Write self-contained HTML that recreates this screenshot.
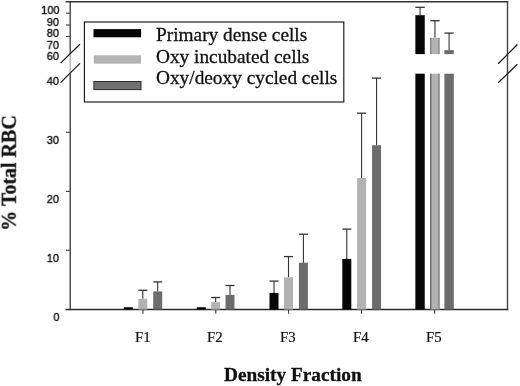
<!DOCTYPE html>
<html><head><meta charset="utf-8"><style>
html,body{margin:0;padding:0;background:#fff;}
body{width:520px;height:386px;overflow:hidden;position:relative;}
svg{position:absolute;left:0;top:0;}
.t{position:absolute;white-space:nowrap;line-height:1;color:#111;will-change:transform;-webkit-text-stroke:0.3px #111;}
.serif{font-family:"Liberation Serif",serif;}
.sans{font-family:"Liberation Sans",sans-serif;transform:scaleX(0.94);transform-origin:100% 50%;-webkit-text-stroke:0.4px #111;}
</style></head><body>
<svg width="520" height="386" viewBox="0 0 520 386">
<line x1="65.5" y1="1.8" x2="508.2" y2="1.8" stroke="#333" stroke-width="1.4"/>
<line x1="507.5" y1="1.5" x2="507.5" y2="310.2" stroke="#444" stroke-width="1.4"/>
<line x1="70.2" y1="1.5" x2="70.2" y2="54" stroke="#3a3a3a" stroke-width="1.3"/>
<line x1="70.2" y1="54" x2="70.2" y2="73.5" stroke="#a5a5a5" stroke-width="1.2"/>
<line x1="70.2" y1="73.5" x2="70.2" y2="310.2" stroke="#333" stroke-width="1.3"/>
<line x1="65.5" y1="309.5" x2="508.2" y2="309.5" stroke="#2a2a2a" stroke-width="1.4"/>
<line x1="66" y1="13.2" x2="70.2" y2="13.2" stroke="#3c3c3c" stroke-width="1.1"/>
<line x1="66" y1="25.0" x2="70.2" y2="25.0" stroke="#3c3c3c" stroke-width="1.1"/>
<line x1="66" y1="36.5" x2="70.2" y2="36.5" stroke="#3c3c3c" stroke-width="1.1"/>
<line x1="66" y1="132.3" x2="70.2" y2="132.3" stroke="#3c3c3c" stroke-width="1.1"/>
<line x1="66" y1="191.4" x2="70.2" y2="191.4" stroke="#3c3c3c" stroke-width="1.1"/>
<line x1="66" y1="250.3" x2="70.2" y2="250.3" stroke="#3c3c3c" stroke-width="1.1"/>
<line x1="143.0" y1="309.5" x2="143.0" y2="313.8" stroke="#3c3c3c" stroke-width="1.1"/>
<line x1="215.8" y1="309.5" x2="215.8" y2="313.8" stroke="#3c3c3c" stroke-width="1.1"/>
<line x1="288.6" y1="309.5" x2="288.6" y2="313.8" stroke="#3c3c3c" stroke-width="1.1"/>
<line x1="361.6" y1="309.5" x2="361.6" y2="313.8" stroke="#3c3c3c" stroke-width="1.1"/>
<line x1="434.7" y1="309.5" x2="434.7" y2="313.8" stroke="#3c3c3c" stroke-width="1.1"/>
<line x1="60.6" y1="63.1" x2="79.9" y2="44.3" stroke="#1e1e1e" stroke-width="1.3"/>
<line x1="60.6" y1="82.6" x2="79.9" y2="63.4" stroke="#1e1e1e" stroke-width="1.3"/>
<line x1="498.2" y1="63.7" x2="517.4" y2="44.5" stroke="#1e1e1e" stroke-width="1.3"/>
<line x1="498.2" y1="82.7" x2="517.4" y2="64.2" stroke="#1e1e1e" stroke-width="1.3"/>
<rect x="123.8" y="307.2" width="9.0" height="2.3" fill="#070707"/>
<line x1="142.8" y1="290.3" x2="142.8" y2="298.8" stroke="#333" stroke-width="1.1"/>
<line x1="138.3" y1="290.3" x2="147.3" y2="290.3" stroke="#333" stroke-width="1.3"/>
<rect x="138.3" y="298.8" width="9.0" height="10.7" fill="#b2b2b2"/>
<line x1="157.7" y1="281.9" x2="157.7" y2="291.4" stroke="#333" stroke-width="1.1"/>
<line x1="153.2" y1="281.9" x2="162.2" y2="281.9" stroke="#333" stroke-width="1.3"/>
<rect x="153.2" y="291.4" width="9.0" height="18.1" fill="#6c6c6c"/>
<rect x="196.8" y="307.2" width="9.0" height="2.3" fill="#070707"/>
<line x1="215.65" y1="297.5" x2="215.65" y2="302.1" stroke="#333" stroke-width="1.1"/>
<line x1="211.15" y1="297.5" x2="220.15" y2="297.5" stroke="#333" stroke-width="1.3"/>
<rect x="211.15" y="302.1" width="9.0" height="7.4" fill="#b2b2b2"/>
<line x1="230.0" y1="285.5" x2="230.0" y2="294.9" stroke="#333" stroke-width="1.1"/>
<line x1="225.5" y1="285.5" x2="234.5" y2="285.5" stroke="#333" stroke-width="1.3"/>
<rect x="225.5" y="294.9" width="9.0" height="14.6" fill="#6c6c6c"/>
<line x1="274.0" y1="281.1" x2="274.0" y2="292.9" stroke="#333" stroke-width="1.1"/>
<line x1="269.5" y1="281.1" x2="278.5" y2="281.1" stroke="#333" stroke-width="1.3"/>
<rect x="269.5" y="292.9" width="9.0" height="16.6" fill="#070707"/>
<line x1="288.5" y1="256.6" x2="288.5" y2="277.3" stroke="#333" stroke-width="1.1"/>
<line x1="284.0" y1="256.6" x2="293.0" y2="256.6" stroke="#333" stroke-width="1.3"/>
<rect x="284.0" y="277.3" width="9.0" height="32.2" fill="#b2b2b2"/>
<line x1="303.4" y1="234.2" x2="303.4" y2="262.7" stroke="#333" stroke-width="1.1"/>
<line x1="298.9" y1="234.2" x2="307.9" y2="234.2" stroke="#333" stroke-width="1.3"/>
<rect x="298.9" y="262.7" width="9.0" height="46.8" fill="#6c6c6c"/>
<line x1="346.8" y1="229.1" x2="346.8" y2="258.9" stroke="#333" stroke-width="1.1"/>
<line x1="342.3" y1="229.1" x2="351.3" y2="229.1" stroke="#333" stroke-width="1.3"/>
<rect x="342.3" y="258.9" width="9.0" height="50.6" fill="#070707"/>
<line x1="361.6" y1="113.2" x2="361.6" y2="178.0" stroke="#333" stroke-width="1.1"/>
<line x1="357.1" y1="113.2" x2="366.1" y2="113.2" stroke="#333" stroke-width="1.3"/>
<rect x="357.1" y="178.0" width="9.0" height="131.5" fill="#b2b2b2"/>
<line x1="376.55" y1="78.1" x2="376.55" y2="145.2" stroke="#333" stroke-width="1.1"/>
<line x1="372.05" y1="78.1" x2="381.05" y2="78.1" stroke="#333" stroke-width="1.3"/>
<rect x="372.05" y="145.2" width="9.0" height="164.3" fill="#6c6c6c"/>
<line x1="420.05" y1="7.3" x2="420.05" y2="15.2" stroke="#333" stroke-width="1.1"/>
<line x1="415.35" y1="7.3" x2="424.75" y2="7.3" stroke="#333" stroke-width="1.3"/>
<rect x="415.35" y="15.2" width="9.4" height="38.9" fill="#070707"/>
<rect x="415.35" y="73.7" width="9.4" height="235.8" fill="#070707"/>
<line x1="434.95" y1="20.7" x2="434.95" y2="37.8" stroke="#333" stroke-width="1.1"/>
<line x1="430.25" y1="20.7" x2="439.65" y2="20.7" stroke="#333" stroke-width="1.3"/>
<rect x="430.25" y="37.8" width="9.4" height="16.3" fill="#b2b2b2"/>
<rect x="430.25" y="73.7" width="9.4" height="235.8" fill="#b2b2b2"/>
<rect x="430.25" y="73.7" width="1" height="235.8" fill="#4a4a4a"/>
<rect x="438.05" y="73.7" width="1.6" height="235.8" fill="#8e8e8e"/>
<rect x="430.25" y="37.8" width="1" height="16.3" fill="#707070"/>
<rect x="438.05" y="37.8" width="1.6" height="16.3" fill="#999"/>
<line x1="449.1" y1="33.1" x2="449.1" y2="50.1" stroke="#333" stroke-width="1.1"/>
<line x1="444.4" y1="33.1" x2="453.8" y2="33.1" stroke="#333" stroke-width="1.3"/>
<rect x="444.4" y="50.1" width="9.4" height="4.0" fill="#6c6c6c"/>
<rect x="444.4" y="73.7" width="9.4" height="235.8" fill="#6c6c6c"/>
<rect x="84.4" y="22" width="259.4" height="80" fill="none" stroke="#1a1a1a" stroke-width="1.15"/>
<rect x="93.5" y="29.1" width="47.6" height="8.2" fill="#050505"/>
<rect x="93.8" y="55.3" width="47.2" height="8.4" fill="#b4b4b4"/>
<rect x="93.9" y="81.5" width="47.1" height="8.1" fill="#707070" stroke="#2a2a2a" stroke-width="1"/>
</svg>
<div class="t serif" style="left:156px;top:25.2px;font-size:19.32px">Primary dense cells</div>
<div class="t serif" style="left:156px;top:46.7px;font-size:19.32px">Oxy incubated cells</div>
<div class="t serif" style="left:156px;top:68.1px;font-size:19.32px">Oxy/deoxy cycled cells</div>
<div class="t serif" style="left:224px;top:364.6px;font-size:19.3px;font-weight:bold">Density Fraction</div>
<div class="t serif" style="left:-49.4px;top:163px;font-size:20px;font-weight:bold;transform:rotate(-90deg);transform-origin:center;">% Total RBC</div>
<div class="t serif" style="left:134.6px;top:330.1px;font-size:14.8px;-webkit-text-stroke:0.2px #111">F1</div>
<div class="t serif" style="left:206.8px;top:330.1px;font-size:14.8px;-webkit-text-stroke:0.2px #111">F2</div>
<div class="t serif" style="left:279.8px;top:330.1px;font-size:14.8px;-webkit-text-stroke:0.2px #111">F3</div>
<div class="t serif" style="left:352.8px;top:330.1px;font-size:14.8px;-webkit-text-stroke:0.2px #111">F4</div>
<div class="t serif" style="left:425.7px;top:330.1px;font-size:14.8px;-webkit-text-stroke:0.2px #111">F5</div>
<div class="t sans" style="left:39.9px;top:3.6px;font-size:11.7px">100</div>
<div class="t sans" style="left:46.1px;top:15.6px;font-size:11.7px">90</div>
<div class="t sans" style="left:45.8px;top:27.3px;font-size:11.7px">80</div>
<div class="t sans" style="left:46.1px;top:38.6px;font-size:11.7px">70</div>
<div class="t sans" style="left:45.5px;top:49.6px;font-size:11.7px">60</div>
<div class="t sans" style="left:45.8px;top:74.6px;font-size:11.7px">40</div>
<div class="t sans" style="left:45.9px;top:133.5px;font-size:11.7px">30</div>
<div class="t sans" style="left:45.7px;top:192.8px;font-size:11.7px">20</div>
<div class="t sans" style="left:46.2px;top:251.6px;font-size:11.7px">10</div>
<div class="t sans" style="left:52.7px;top:310.6px;font-size:11.7px">0</div>
</body></html>
